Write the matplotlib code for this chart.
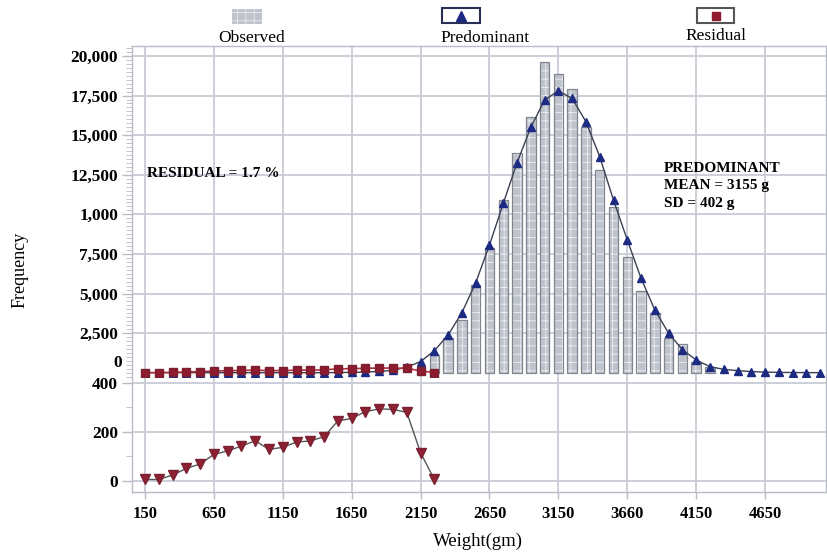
import matplotlib
matplotlib.use('Agg')
import matplotlib.pyplot as plt
from matplotlib.patches import Rectangle
from matplotlib.lines import Line2D
from matplotlib.ticker import MultipleLocator

plt.rcParams['font.family'] = ['Liberation Serif', 'DejaVu Serif']
plt.rcParams['hatch.linewidth'] = 0.6

# observed histogram (bins of 100 g)
obs_w = [2250, 2350, 2450, 2550, 2650, 2750, 2850, 2950, 3050, 3150, 3250,
         3350, 3450, 3550, 3650, 3750, 3850, 3950, 4050, 4150, 4250]
obs_n = [1120, 2170, 3330, 5540, 7850, 10900, 13850, 16160, 19630, 18840, 17890,
         15530, 12800, 10480, 7330, 5180, 3760, 2200, 1800, 650, 350]

# predominant (fitted) component
pred_w = list(range(150, 5051, 100))
pred_n = [0, 0, 0, 0, 0, 0, 0, 0, 0, 0, 0, 0, 0, 5, 10, 20, 40, 80, 150, 350,
          700, 1390, 2380, 3790, 5680, 8060, 10690, 13260, 15490, 17220, 17800,
          17320, 15850, 13640, 10900, 8380, 5960, 3960, 2490, 1450, 800, 380,
          210, 130, 70, 40, 20, 10, 5, 0]

# residual component
res_w = list(range(150, 2251, 100))
res_n = [5, 5, 23, 50, 68, 107, 122, 141, 163, 128, 136, 158, 162, 180,
         244, 254, 282, 293, 291, 279, 114, 5]

x_ticks = [150, 650, 1150, 1650, 2150, 2650, 3150, 3650, 4150, 4650]
x_labels = ['150', '650', '1150', '1650', '2150', '2650', '3150', '3660', '4150', '4650']
top_ticks = [2500, 5000, 7500, 10000, 12500, 15000, 17500, 20000]
top_labels = ['2,500', '5,000', '7,500', '1,000', '12,500', '15,000', '17,500', '20,000']
low_ticks = [0, 200, 400]

W, H = 827, 553
fig = plt.figure(figsize=(W / 100, H / 100), dpi=100)

def fx(px):
    return px / W

def fy(py):
    return 1 - py / H

ax1 = fig.add_axes([fx(132), fy(378), fx(826 - 132), fy(46) - fy(378)])
ax2 = fig.add_axes([fx(132), fy(492), fx(826 - 132), fy(378) - fy(492)])

grid_c = '#c8ccd8'
spine_c = '#b8bcc8'

for ax in (ax1, ax2):
    ax.set_xlim(56, 5092)
    ax.set_xticks(x_ticks)
    ax.grid(True, color=grid_c, lw=1.3)
    ax.set_axisbelow(True)
    for s in ax.spines.values():
        s.set_color(spine_c)
        s.set_linewidth(1.0)
    ax.tick_params(axis='y', colors=spine_c, length=7, width=1, pad=3,
                   labelcolor='black', labelsize=12.5)
    ax.tick_params(axis='x', colors=spine_c, length=5, width=1, pad=5,
                   labelcolor='black', labelsize=12)

ax1.spines['bottom'].set_visible(False)
ax2.spines['top'].set_visible(False)

# upper panel
ax1.set_ylim(-335, 20631)
ax1.set_yticks(top_ticks)
ax1.set_yticklabels(top_labels, fontweight='bold')
ax1.yaxis.set_minor_locator(MultipleLocator(250))
ax1.tick_params(axis='y', which='minor', colors=spine_c, length=4)
ax1.tick_params(axis='x', length=0, labelbottom=False)
ax1.annotate('0', xy=(0, 0), xycoords=('axes fraction', 'data'),
             xytext=(-10, 10), textcoords='offset pixels',
             ha='right', va='center', fontsize=12.5, fontweight='bold')

ax1.bar(obs_w, obs_n, width=68, color='#bfc3cc', edgecolor='#eef0f3',
        hatch='++', linewidth=0, zorder=2)
ax1.bar(obs_w, obs_n, width=68, fill=False, edgecolor='#80858f',
        linewidth=0.9, zorder=3)
ax1.plot(pred_w, pred_n, color='#3b3f52', lw=1.0, zorder=4)
ax1.plot(pred_w, pred_n, ls='none', marker='^', ms=6, color='#1d2a82', zorder=5)
ax1.plot(res_w, res_n, color='#b0303e', lw=1.2, marker='s', ms=5.5,
         markerfacecolor='#8e1b2e', markeredgecolor='#7a2030', zorder=6)

ax1.text(165, 12550, 'RESIDUAL = 1.7 %', fontsize=11, fontweight='bold',
         ha='left', va='center')
ax1.text(3918, 11790, 'PREDOMINANT\nMEAN = 3155 g\nSD = 402 g', fontsize=11,
         fontweight='bold', ha='left', va='center', linespacing=1.45)

# lower panel
ax2.set_ylim(-46, 419)
ax2.set_yticks(low_ticks)
ax2.set_yticklabels(['0', '200', '400'], fontweight='bold')
ax2.yaxis.set_minor_locator(MultipleLocator(100))
ax2.tick_params(axis='y', which='minor', colors=spine_c, length=4)
ax2.set_xticklabels(x_labels, fontweight='bold')
ax2.plot(res_w, res_n, color='#555555', lw=1.0, marker='v', ms=7,
         markerfacecolor='#8e2233', markeredgecolor='#7a2030')

fig.text(fx(20), fy(270), 'Frequency', rotation=90, ha='center', va='center',
         fontsize=13)
fig.text(fx(478), fy(541), 'Weight(gm)', ha='center', va='center', fontsize=13.5)

# legend drawn above the plot
fig.add_artist(Rectangle((fx(232), fy(24)), fx(30), fy(9) - fy(24),
                         transform=fig.transFigure, facecolor='#bfc3cc',
                         edgecolor='#e8eaee', hatch='++', lw=0))
fig.text(fx(252), fy(38), 'Observed', ha='center', va='center', fontsize=12.5)

fig.add_artist(Rectangle((fx(442), fy(23)), fx(38), fy(8) - fy(23),
                         transform=fig.transFigure, facecolor='white',
                         edgecolor='#2a2f55', lw=1.5))
fig.add_artist(Line2D([fx(461)], [fy(15.5)], transform=fig.transFigure,
                      marker='^', ms=7, color='#1d2a82', ls='none'))
fig.text(fx(485), fy(38), 'Predominant', ha='center', va='center', fontsize=12.5)

fig.add_artist(Rectangle((fx(697), fy(23)), fx(37), fy(8) - fy(23),
                         transform=fig.transFigure, facecolor='white',
                         edgecolor='#555555', lw=1.5))
fig.add_artist(Line2D([fx(715.5)], [fy(15.5)], transform=fig.transFigure,
                      marker='s', ms=5.5, color='#8e1b2e', ls='none'))
fig.text(fx(716), fy(36), 'Residual', ha='center', va='center', fontsize=12.5)

fig.savefig('out.png', dpi=100)
